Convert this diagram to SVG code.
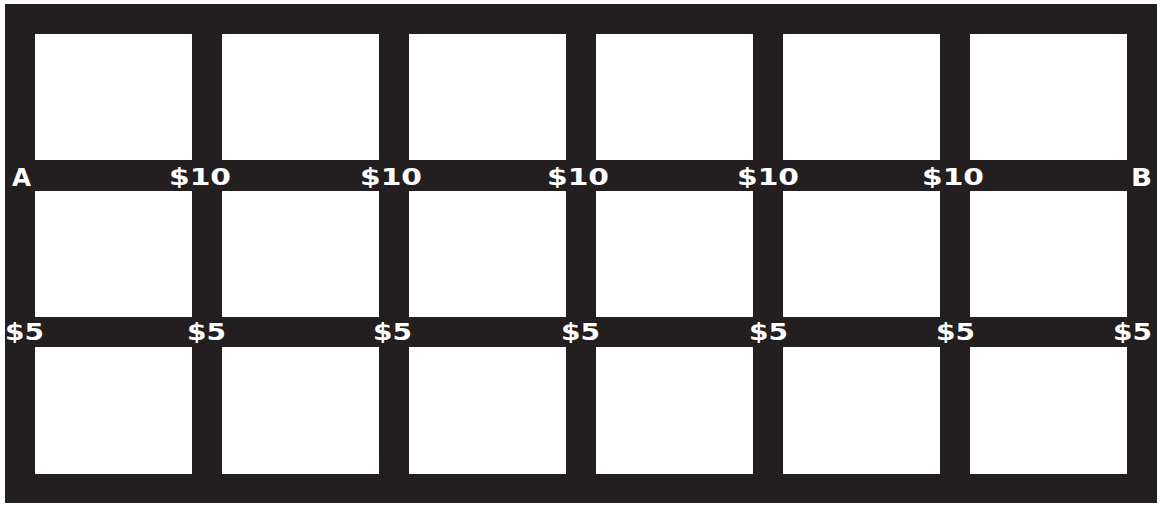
<svg xmlns="http://www.w3.org/2000/svg" width="1164" height="505" viewBox="0 0 1164 505">
<style>
.bg{fill:#231f20}
.cell{fill:#ffffff}
.lbl{fill:#ffffff;font-size:23.5px}
.pt{fill:#ffffff;font-size:24px}
</style>
<rect x="0" y="0" width="1164" height="505" fill="#ffffff"/>
<g id="frame"><rect class="bg" x="5" y="4" width="1152" height="499"/></g>
<g id="blocks">
<rect class="cell" x="35" y="34" width="157" height="126"/>
<rect class="cell" x="222" y="34" width="157" height="126"/>
<rect class="cell" x="409" y="34" width="157" height="126"/>
<rect class="cell" x="596" y="34" width="157" height="126"/>
<rect class="cell" x="783" y="34" width="157" height="126"/>
<rect class="cell" x="970" y="34" width="157" height="126"/>
<rect class="cell" x="35" y="191" width="157" height="126"/>
<rect class="cell" x="222" y="191" width="157" height="126"/>
<rect class="cell" x="409" y="191" width="157" height="126"/>
<rect class="cell" x="596" y="191" width="157" height="126"/>
<rect class="cell" x="783" y="191" width="157" height="126"/>
<rect class="cell" x="970" y="191" width="157" height="126"/>
<rect class="cell" x="35" y="347" width="157" height="127"/>
<rect class="cell" x="222" y="347" width="157" height="127"/>
<rect class="cell" x="409" y="347" width="157" height="127"/>
<rect class="cell" x="596" y="347" width="157" height="127"/>
<rect class="cell" x="783" y="347" width="157" height="127"/>
<rect class="cell" x="970" y="347" width="157" height="127"/>
</g>
<g id="labels" font-family="'DejaVu Sans', 'Liberation Sans', sans-serif" font-weight="bold">
<text id="A" class="pt" x="12" y="185.5" textLength="19" lengthAdjust="spacingAndGlyphs">A</text>
<text id="B" class="pt" x="1131" y="185.5" textLength="21" lengthAdjust="spacingAndGlyphs">B</text>
<text class="lbl" x="169" y="185" textLength="62" lengthAdjust="spacingAndGlyphs">$10</text>
<text class="lbl" x="360" y="185" textLength="62" lengthAdjust="spacingAndGlyphs">$10</text>
<text class="lbl" x="547" y="185" textLength="62" lengthAdjust="spacingAndGlyphs">$10</text>
<text class="lbl" x="737" y="185" textLength="62" lengthAdjust="spacingAndGlyphs">$10</text>
<text class="lbl" x="922" y="185" textLength="62" lengthAdjust="spacingAndGlyphs">$10</text>
<text class="lbl" x="5" y="340" textLength="39" lengthAdjust="spacingAndGlyphs">$5</text>
<text class="lbl" x="187" y="340" textLength="39" lengthAdjust="spacingAndGlyphs">$5</text>
<text class="lbl" x="373" y="340" textLength="39" lengthAdjust="spacingAndGlyphs">$5</text>
<text class="lbl" x="561" y="340" textLength="39" lengthAdjust="spacingAndGlyphs">$5</text>
<text class="lbl" x="749" y="340" textLength="39" lengthAdjust="spacingAndGlyphs">$5</text>
<text class="lbl" x="936" y="340" textLength="39" lengthAdjust="spacingAndGlyphs">$5</text>
<text class="lbl" x="1113" y="340" textLength="39" lengthAdjust="spacingAndGlyphs">$5</text>
</g>
</svg>
